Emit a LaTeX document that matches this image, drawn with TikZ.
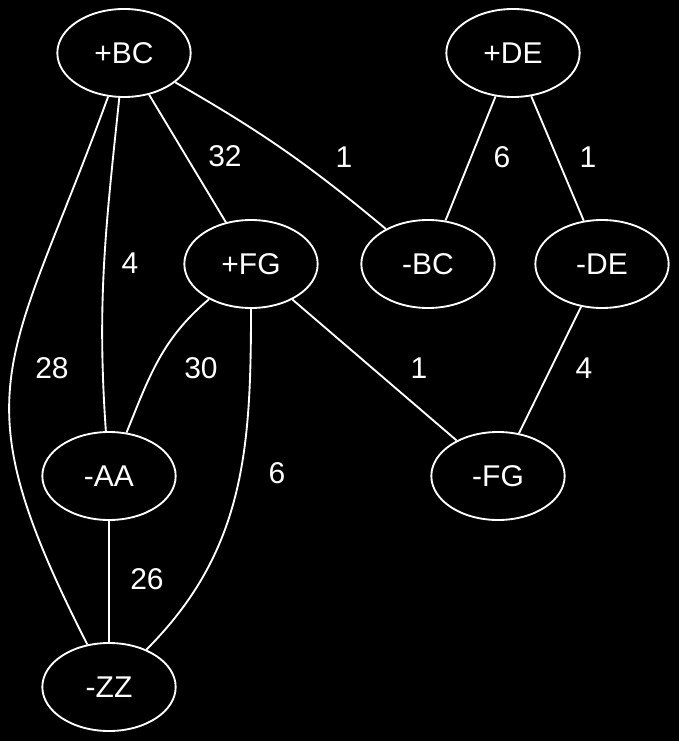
\documentclass[tikz,border=0pt]{standalone}
\usepackage{fontspec}
\setmainfont{Liberation Sans}
\usetikzlibrary{shapes.geometric}

\begin{document}
\begin{tikzpicture}[
  x=0.75pt, y=-0.75pt,
  font=\fontsize{22.5}{27}\selectfont,
  vtx/.style={draw=white, ellipse, line width=1.4pt, text=white, minimum width=100pt, minimum height=66pt, inner sep=0pt},
  edg/.style={draw=white, line width=1.4pt},
  wt/.style={text=white, inner sep=1pt},
]
% background
\useasboundingbox (0,0) rectangle (679,741);
\fill[black] (0,0) rectangle (679,741);
% top row
\node[vtx] (pBC) at (124,53) {+BC};
\node[vtx] (pDE) at (513,53) {+DE};
% middle row
\node[vtx] (pFG) at (251,264) {+FG};
\node[vtx] (mBC) at (428,264) {-BC};
\node[vtx] (mDE) at (602,264) {-DE};
% lower rows
\node[vtx] (mAA) at (109,476) {-AA};
\node[vtx] (mFG) at (498,476) {-FG};
\node[vtx] (mZZ) at (109,687) {-ZZ};
% edges
\draw[edg] (pBC) -- (pFG);
\draw[edg] (pBC) to[bend left=5] (mBC);
\draw[edg] (pBC) to[out=-96, in=94] (mAA);
\draw[edg] (pBC) to[out=250, in=117, looseness=1.35] (mZZ);
\draw[edg] (pDE) -- (mBC);
\draw[edg] (pDE) -- (mDE);
\draw[edg] (pFG) to[out=220, in=68] (mAA);
\draw[edg] (pFG) to[out=-90, in=45] (mZZ);
\draw[edg] (pFG) -- (mFG);
\draw[edg] (mDE) -- (mFG);
\draw[edg] (mAA) -- (mZZ);
% weights
\node[wt] (w1) at (225,156) {32};
\node[wt] (w2) at (344,157) {1};
\node[wt] (w3) at (130,263) {4};
\node[wt] (w4) at (502,157) {6};
\node[wt] (w5) at (588,157) {1};
\node[wt] (w6) at (52,368) {28};
\node[wt] (w7) at (201,368) {30};
\node[wt] (w8) at (419,368) {1};
\node[wt] (w9) at (584,368) {4};
\node[wt] (w10) at (277,473) {6};
\node[wt] (w11) at (147,579) {26};
\end{tikzpicture}
\end{document}
